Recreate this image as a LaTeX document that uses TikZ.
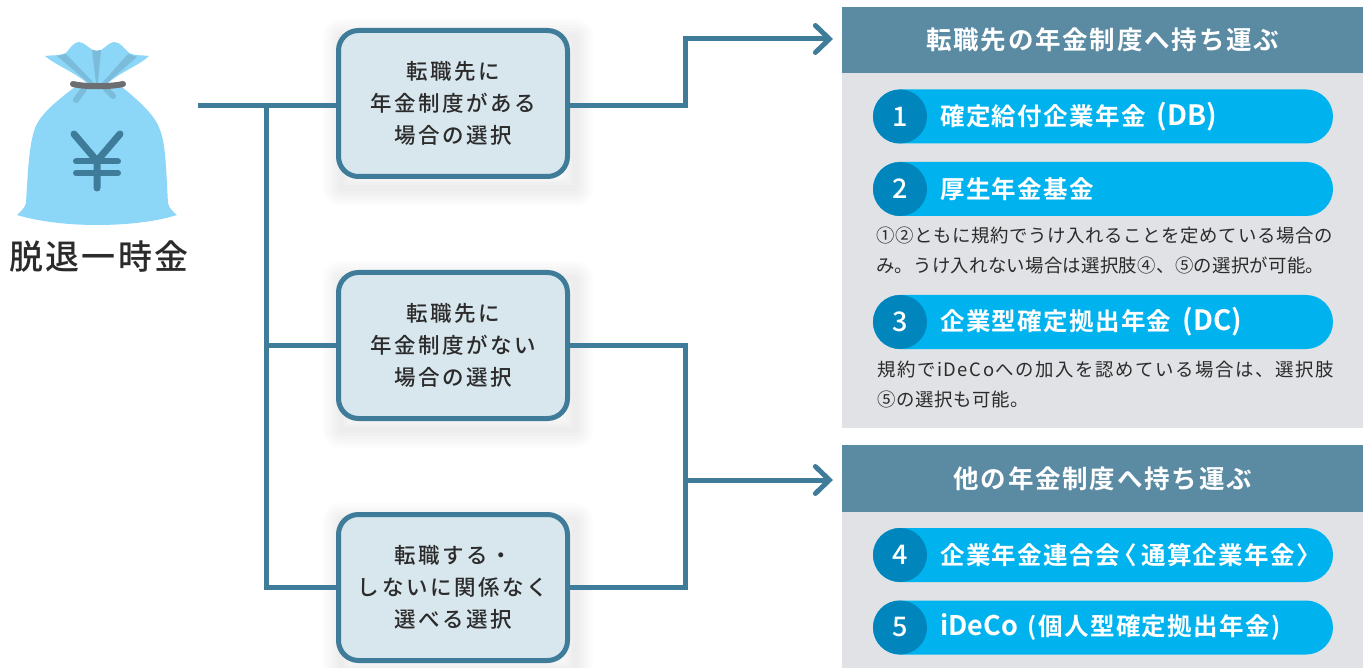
\documentclass[tikz,border=0pt]{standalone}
\usepackage{fontspec}
\setmainfont{Noto Sans CJK JP}
\newfontfamily\medjp{Noto Sans CJK JP Medium}
\newfontfamily\boldjp{Noto Sans CJK JP Bold}
\newcommand{\latinrun}[2][28]{{\addfontfeature{LetterSpace=0}\fontsize{#1}{30}\selectfont #2}}
\usetikzlibrary{backgrounds,calc,arrows.meta}
\definecolor{linecol}{HTML}{3F7C99}
\definecolor{boxcol}{HTML}{D8E6EE}
\definecolor{headcol}{HTML}{5A8BA3}
\definecolor{panelcol}{HTML}{E0E2E5}
\definecolor{pillcol}{HTML}{00B3EE}
\definecolor{dotcol}{HTML}{0086BC}
\definecolor{bagcol}{HTML}{8CD6F8}
\definecolor{foldcol}{HTML}{7BBCDA}
\definecolor{ropecol}{HTML}{6D6E71}
\definecolor{inkcol}{HTML}{2B2B2B}

\begin{document}
\begin{tikzpicture}[
    x = 1pt, y = -1pt,
    choice/.style = {draw = linecol, fill = boxcol, line width = 5pt, rounded corners = 20pt,
        minimum width = 229pt, minimum height = 146pt, align = center, text = inkcol,
        font = \medjp\addfontfeature{LetterSpace=12}\fontsize{21.5}{31.8}\selectfont},
    wire/.style = {draw = linecol, line width = 5pt},
    go/.style = {wire, -{Straight Barb[length=14pt, width=27pt, line cap=round, line width=5pt]}},
    panel/.style = {fill = panelcol, minimum width = 521pt, anchor = north west, inner sep = 0pt},
    head/.style = {fill = headcol, minimum width = 521pt, minimum height = 66pt, anchor = north west,
        text = white, inner sep = 0pt, font = \boldjp\addfontfeature{LetterSpace=7}\fontsize{25.5}{30}\selectfont},
    pill/.style = {fill = pillcol, minimum width = 460pt, minimum height = 54pt, rounded corners = 27pt, inner sep = 0pt},
    dot/.style = {circle, fill = dotcol, minimum size = 54pt, inner sep = 0pt, text = white,
        font = \medjp\fontsize{27}{30}\selectfont},
    pilltext/.style = {anchor = west, text = white, inner sep = 0pt,
        font = \boldjp\addfontfeature{LetterSpace=5.5}\fontsize{24.5}{30}\selectfont},
    note/.style = {anchor = west, text = inkcol, inner sep = 0pt, align = left,
        font = \addfontfeature{LetterSpace=3.5}\fontsize{18.4}{30}\selectfont}]

\useasboundingbox (0,0) rectangle (1368,668);

% money bag
\fill[bagcol] (75,87) .. controls (55,102) and (40,115) .. (35,128)
	.. controls (29,145) and (28,170) .. (26,203)
	.. controls (25,208) and (20,212) .. (17,215)
	.. controls (40,222) and (70,225) .. (97,225)
	.. controls (125,225) and (155,222) .. (177,215)
	.. controls (173,212) and (169,208) .. (168,203)
	.. controls (166,170) and (166,145) .. (160,130)
	.. controls (155,115) and (140,102) .. (122,87) -- cycle;
\fill[bagcol] (88,84) .. controls (75,72) and (55,65) .. (45,56)
	.. controls (52,55) and (60,56) .. (66,53)
	.. controls (70,48) and (74,42) .. (79,42)
	.. controls (85,42) and (90,51) .. (97,51)
	.. controls (104,51) and (108,42) .. (114,42)
	.. controls (120,42) and (124,48) .. (129,53)
	.. controls (135,56) and (143,55) .. (149,56)
	.. controls (140,65) and (120,72) .. (107,84) -- cycle;
\fill[foldcol] (57,56) -- (66,54) -- (94,83) -- (90,84) -- cycle;
\fill[foldcol] (92,50) .. controls (95,51) and (98,51) .. (101,50) -- (98,83) -- (96,83) -- cycle;
\fill[foldcol] (128,54) -- (137,57) -- (106,84) -- (102,83) -- cycle;
\draw[foldcol, line width = 6pt, line cap = round] (76,100) -- (84,89) (113,96) -- (106,89);
\draw[ropecol, line width = 6pt, line cap = round] (73,84) .. controls (85,87) and (110,87) .. (123,84);
\draw[linecol, line width = 7pt, line cap = round, line join = round] (74,134) -- (97,161) -- (120,134) (97,161) -- (97,188);
\draw[linecol, line width = 6pt, line cap = round] (76,161.5) -- (118,161.5) (76,173) -- (118,173);
\node[text = inkcol, inner sep = 0pt, font = \medjp\addfontfeature{LetterSpace=6}\fontsize{34}{40}\selectfont] (title) at (99,257) {脱退一時金};

% choice boxes
\node[choice] (boxa) at (453,103.5) {転職先に\\年金制度がある\\場合の選択};
\node[choice] (boxb) at (453,345.5) {転職先に\\年金制度がない\\場合の選択};
\node[choice] (boxc) at (453,587.5) {転職する・\\しないに関係なく\\選べる選択};

% soft shadows under the boxes
\begin{scope}[on background layer]
\foreach \b in {boxa,boxb,boxc}
	\foreach \w in {36,30,24,18,12,6}
		\draw[black, opacity = 0.012, line width = \w pt, line join = round]
			($(\b.north west)+(5,9)$) rectangle ($(\b.south east)+(5,9)$);
\end{scope}

% right panels
\node[panel, minimum height = 421pt] (panelone) at (842,7) {};
\node[head] (headone) at (842,7) {転職先の年金制度へ持ち運ぶ};
\node[panel, minimum height = 223pt] (paneltwo) at (842,445) {};
\node[head, minimum height = 67pt] (headtwo) at (842,445) {他の年金制度へ持ち運ぶ};

\node[pill] (pillone) at (1103,116.5) {};
\node[dot] (dotone) at (900,116.5) {1};
\node[pilltext] (textone) at (940,116.5) {確定給付企業年金\hspace{11pt}\latinrun{(DB)}};
\node[pill] (pilltwo) at (1103,189) {};
\node[dot] (dottwo) at (900,189) {2};
\node[pilltext] (texttwo) at (940,189) {厚生年金基金};
\node[note] (noteone) at (876,236) {①②ともに規約でうけ入れることを定めている場合の};
\node[note, font = \addfontfeature{LetterSpace=1.5}\fontsize{18.4}{30}\selectfont] (notetwo) at (876,266) {み。うけ入れない場合は選択肢④、⑤の選択が可能。};
\node[pill] (pillthree) at (1103,322) {};
\node[dot] (dotthree) at (900,322) {3};
\node[pilltext] (textthree) at (940,322) {企業型確定拠出年金\hspace{11pt}\latinrun{(DC)}};
\node[note, font = \addfontfeature{LetterSpace=8.5}\fontsize{18.4}{30}\selectfont] (notethree) at (877,370) {規約でiDeCoへの加入を認めている場合は、選択肢};
\node[note] (notefour) at (877,400) {⑤の選択も可能。};
\node[pill] (pillfour) at (1103,555) {};
\node[dot] (dotfour) at (900,555) {4};
\node[pilltext] (textfour) at (940,555) {企業年金連合会\hspace{-7pt}〈\hspace{4pt}通算企業年金〉};
\node[pill] (pillfive) at (1103,627.5) {};
\node[dot] (dotfive) at (900,627.5) {5};
\node[pilltext] (textfive) at (940,627.5) {\latinrun[27]{iDeCo}\hspace{10pt}(個人型確定拠出年金)};

% connectors
\coordinate (stem) at (198,105.5);
\coordinate (forkl) at (266.5,105.5);
\coordinate (forkr) at (685,480);
\coordinate (tipone) at (833,39);
\coordinate (tiptwo) at (833,480);

\draw[wire] (stem) -- (boxa.west |- stem);
\draw[wire] (forkl) -- (forkl |- boxc.west) -- (boxc.west);
\draw[wire] (forkl |- boxb.west) -- (boxb.west);
\draw[go] (boxa.east |- stem) -| ($(forkr |- tipone)$) -- (tipone);
\draw[wire] (boxb.east) -| (forkr) |- (boxc.east);
\draw[go] (forkr) -- (tiptwo);
\end{tikzpicture}
\end{document}
